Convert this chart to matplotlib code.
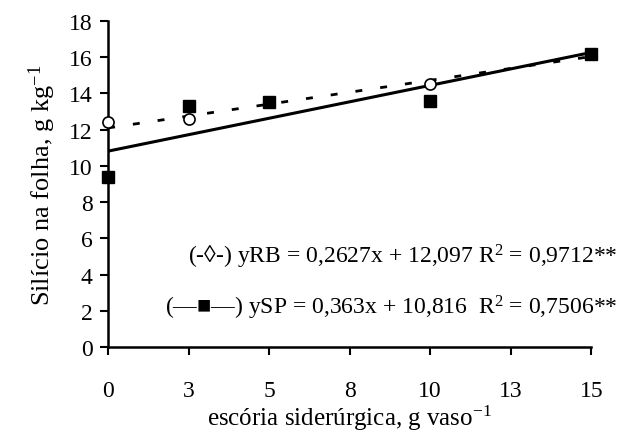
import numpy as np
import matplotlib
matplotlib.use("Agg")
import matplotlib.pyplot as plt

plt.rcParams['font.family'] = ['Liberation Serif', 'DejaVu Sans']
plt.rcParams['mathtext.fontset'] = 'custom'
plt.rcParams['mathtext.rm'] = 'Liberation Serif'
plt.rcParams['mathtext.it'] = 'Liberation Serif:italic'

# doses de escória (posição no eixo) e rótulos do eixo x
doses = [0, 2.5, 5, 10, 15]
xticks = [0, 2.5, 5, 7.5, 10, 12.5, 15]
xlabels = ['0', '3', '5', '8', '10', '13', '15']

# silício na folha
si_rb = [12.4, 12.6, 13.5, 14.5, 16.2]
si_sp = [9.4, 13.3, 13.5, 13.6, 16.2]

# coeficientes das regressões (a*x + b)
coef_rb = (0.2627, 12.097)
coef_sp = (0.363, 10.816)

fig = plt.figure(figsize=(6.25, 4.39), dpi=100)
ax = fig.add_axes([0.173, 0.207, 0.773, 0.743])

xx = np.array([0, 15])
ax.plot(xx, coef_rb[0] * xx + coef_rb[1], color='black', lw=2.0,
        linestyle=(0, (2.5, 6.5)), zorder=2)
ax.plot(xx, coef_sp[0] * xx + coef_sp[1], color='black', lw=2.2,
        linestyle='-', zorder=2)

ax.plot(doses, si_rb, linestyle='none', marker='o', ms=8,
        mfc='white', mec='black', mew=1.2, zorder=3, clip_on=False)
ax.plot(doses, si_sp, linestyle='none', marker='s', ms=9,
        mfc='black', mec='black', zorder=4, clip_on=False)

ax.set_xlim(0, 15)
ax.set_ylim(0, 18)
ax.set_xticks(xticks)
ax.set_xticklabels(xlabels)
ax.set_yticks(np.arange(0, 19, 2))
ax.tick_params(labelsize=17, direction='out', length=6, width=1.5, pad=5)
ax.tick_params(axis='x', pad=18)
for s in ['top', 'right']:
    ax.spines[s].set_visible(False)
for s in ['left', 'bottom']:
    ax.spines[s].set_linewidth(1.8)

ax.set_ylabel('Silício na folha, g kg$^{-1}$', fontsize=19, labelpad=8)
ax.set_xlabel('escória siderúrgica, g vaso$^{-1}$', fontsize=18, labelpad=1)

ax.text(1.055, 0.279, '(-◊-) yRB = 0,2627x + 12,097 R$^2$ = 0,9712**',
        transform=ax.transAxes, ha='right', va='center', fontsize=17)
ax.text(1.055, 0.123, '(—■—) ySP = 0,363x + 10,816  R$^2$ = 0,7506**',
        transform=ax.transAxes, ha='right', va='center', fontsize=17)

fig.savefig('out.png', dpi=100)
